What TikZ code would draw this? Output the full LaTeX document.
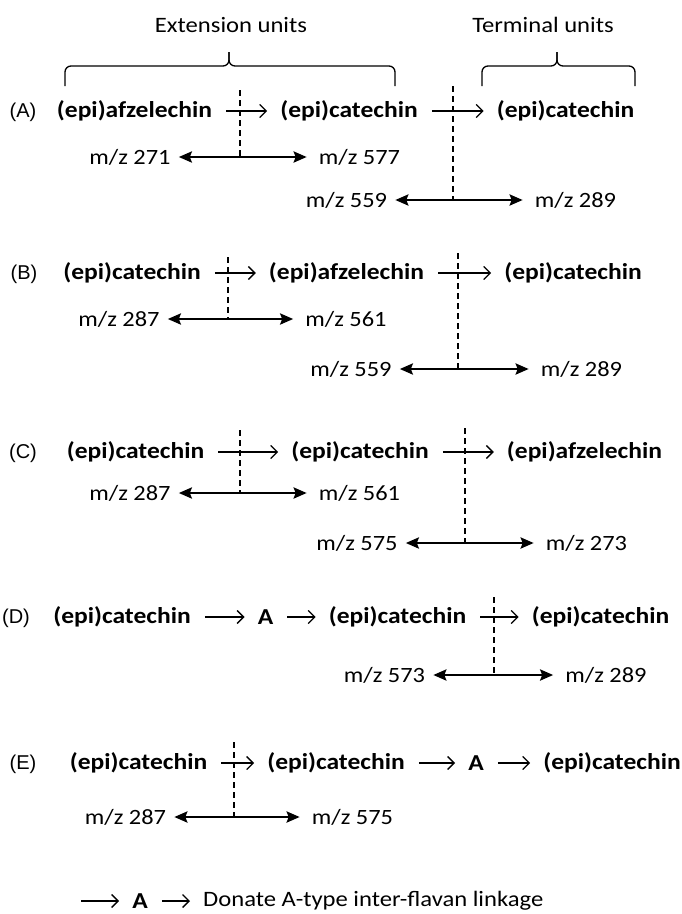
\documentclass[tikz,border=0pt]{standalone}
\usepackage{fontspec}
\setmainfont[FakeStretch=1.12]{Carlito}
\newfontfamily\labfont{Liberation Sans}
\usetikzlibrary{arrows.meta}
\begin{document}
\begin{tikzpicture}[x=1pt,y=-1pt,
  unit/.style={font=\bfseries\fontsize{22.8}{27}\selectfont, inner sep=0pt},
  mz/.style={font=\fontsize{21.8}{26}\selectfont, inner sep=0pt},
  lab/.style={font=\labfont\fontsize{20}{24}\selectfont, inner sep=0pt},
  head/.style={font=\fontsize{22}{26}\selectfont, inner sep=0pt},
  link/.style={line width=1.3pt, -{Straight Barb[length=6.5pt,width=13pt,line width=1.3pt]}, shorten <=14pt, shorten >=13pt},
  frag/.style={line width=2.6pt, {Stealth[length=13pt,width=11pt,inset=2pt]}-{Stealth[length=13pt,width=11pt,inset=2pt]}, shorten <=8pt, shorten >=12pt},
  cut/.style={line width=1.7pt, dash pattern=on 6pt off 4pt},
  brc/.style={line width=1.3pt, rounded corners=6pt}]
\useasboundingbox (0,0) rectangle (682,914);

% headers and braces
\node[head] (ext) at (231,25) {Extension units};
\node[head] (term) at (543,25) {Terminal units};
\coordinate (bl1) at (65,86);  \coordinate (bl2) at (395,86);  \coordinate (blt) at (229,52);
\coordinate (br1) at (482,86); \coordinate (br2) at (635,86);  \coordinate (brt) at (557,52);
\draw[brc] (bl1) |- (blt |- 0,66) -- (blt);
\draw[brc] (bl2) |- (blt |- 0,66) -- (blt);
\draw[brc] (br1) |- (brt |- 0,66) -- (brt);
\draw[brc] (br2) |- (brt |- 0,66) -- (brt);

% Row A
\node[lab] (la) at (23,112) {(A)};
\node[unit] (a1) at (134.5,111) {(epi)afzelechin};
\node[unit] (a2) at (349,111) {(epi)catechin};
\node[unit] (a3) at (565.5,111) {(epi)catechin};
\draw[link] (a1) -- (a2);
\draw[link] (a2) -- (a3);
\node[mz] (ma1) at (130,157) {m/z 271};
\node[mz] (ma2) at (359.5,157) {m/z 577};
\node[mz] (ma3) at (346.5,200) {m/z 559};
\node[mz] (ma4) at (575.5,200) {m/z 289};
\draw[frag] (ma1) -- (ma2);
\draw[frag] (ma3) -- (ma4);
\coordinate (ca1) at (240,90);
\coordinate (ca2) at (453,86);
\draw[cut] (ca1) -- (ca1 |- ma1);
\draw[cut] (ca2) -- (ca2 |- ma3);

% Row B
\node[lab] (lb) at (24,274) {(B)};
\node[unit] (b1) at (132,273) {(epi)catechin};
\node[unit] (b2) at (346.5,273) {(epi)afzelechin};
\node[unit] (b3) at (573,273) {(epi)catechin};
\draw[link] (b1) -- (b2);
\draw[link] (b2) -- (b3);
\node[mz] (mb1) at (119,319) {m/z 287};
\node[mz] (mb2) at (346,319) {m/z 561};
\node[mz] (mb3) at (351,369) {m/z 559};
\node[mz] (mb4) at (581.5,369) {m/z 289};
\draw[frag] (mb1) -- (mb2);
\draw[frag] (mb3) -- (mb4);
\coordinate (cb1) at (228,257);
\coordinate (cb2) at (458,253);
\draw[cut] (cb1) -- (cb1 |- mb1);
\draw[cut] (cb2) -- (cb2 |- mb3);

% Row C
\node[lab] (lc) at (23,453) {(C)};
\node[unit] (c1) at (135.5,452) {(epi)catechin};
\node[unit] (c2) at (360,452) {(epi)catechin};
\node[unit] (c3) at (584.5,452) {(epi)afzelechin};
\draw[link] (c1) -- (c2);
\draw[link] (c2) -- (c3);
\node[mz] (mc1) at (130,493) {m/z 287};
\node[mz] (mc2) at (359.5,493) {m/z 561};
\node[mz] (mc3) at (357,543) {m/z 575};
\node[mz] (mc4) at (586.5,543) {m/z 273};
\draw[frag] (mc1) -- (mc2);
\draw[frag] (mc3) -- (mc4);
\coordinate (cc1) at (240,430);
\coordinate (cc2) at (465,428);
\draw[cut] (cc1) -- (cc1 |- mc1);
\draw[cut] (cc2) -- (cc2 |- mc3);

% Row D
\node[lab] (ld) at (16,618) {(D)};
\node[unit] (d1) at (122,617) {(epi)catechin};
\node[unit] (da) at (265.5,617) {A};
\node[unit] (d2) at (397.5,617) {(epi)catechin};
\node[unit] (d3) at (600.5,617) {(epi)catechin};
\draw[link] (d1) -- (da);
\draw[link] (da) -- (d2);
\draw[link] (d2) -- (d3);
\node[mz] (md1) at (384.5,675) {m/z 573};
\node[mz] (md2) at (606,675) {m/z 289};
\draw[frag] (md1) -- (md2);
\coordinate (cd1) at (494,597);
\draw[cut] (cd1) -- (cd1 |- md1);

% Row E
\node[lab] (le) at (23,764) {(E)};
\node[unit] (e1) at (138.5,763) {(epi)catechin};
\node[unit] (e2) at (336,763) {(epi)catechin};
\node[unit] (ea) at (476,763) {A};
\node[unit] (e3) at (612,763) {(epi)catechin};
\draw[link] (e1) -- (e2);
\draw[link] (e2) -- (ea);
\draw[link] (ea) -- (e3);
\node[mz] (me1) at (125.5,817) {m/z 287};
\node[mz] (me2) at (352.5,817) {m/z 575};
\draw[frag] (me1) -- (me2);
\coordinate (ce1) at (234,742);
\draw[cut] (ce1) -- (ce1 |- me1);

% Legend
\coordinate (g0) at (81,901);
\node[unit] (ga) at (140,901) {A};
\node[head, anchor=west] (gt) at (203,901) {Donate A-type inter-flavan linkage};
\draw[link, shorten <=0pt] (g0) -- (ga);
\draw[link] (ga) -- (gt.west);
\end{tikzpicture}
\end{document}
